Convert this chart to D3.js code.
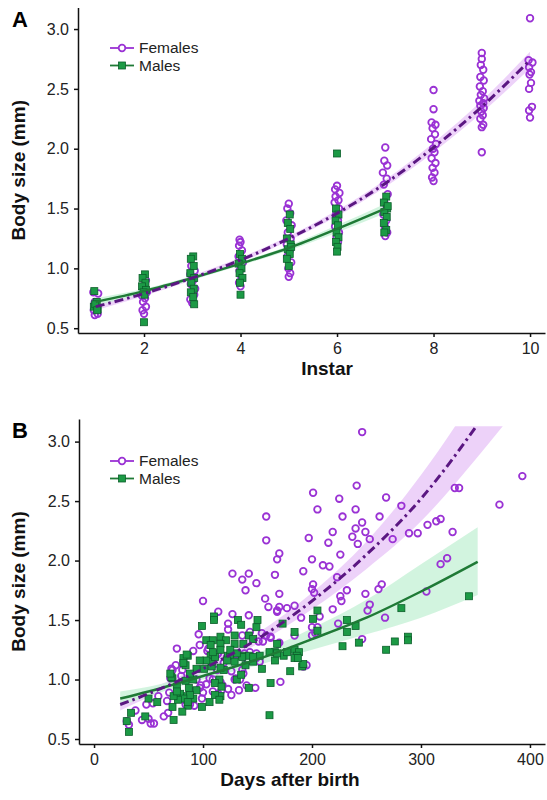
<html>
<head>
<script src="https://d3js.org/d3.v7.min.js"></script>
<style>
    body { margin: 0; background: #fff; }
    text { font-family: "Liberation Sans", Arial, sans-serif; }
    .axis path, .axis line { stroke: #111; stroke-width: 1.5; }
    .axis text { font-size: 16px; fill: #222; }
</style>
</head>
<body>
<svg id="chart" width="547" height="800"></svg>
<script>
// ---------- Panel A : body size by instar ----------
// [instar (with the small horizontal spread of the figure), body size mm]
const femalesA = [
    [0.95,0.80],[1.05,0.79],[0.98,0.72],[1.02,0.68],[0.96,0.65],[1.04,0.62],[0.98,0.61],[1.0,0.70],
    [2.04,0.90],[1.98,0.85],[2.06,0.80],[1.96,0.77],[2.02,0.75],[1.98,0.72],[2.04,0.68],[1.97,0.65],[2.0,0.62],
    [2.98,1.02],[3.05,0.98],[2.96,0.95],[3.02,0.90],[2.97,0.87],[3.06,0.83],[2.99,0.80],[3.04,0.78],[2.96,0.74],[3.0,0.71],
    [3.98,1.24],[4.0,1.22],[3.97,1.19],[4.03,1.15],[3.96,1.10],[4.05,1.05],[3.98,0.98],[4.02,0.92],[3.97,0.88],[4.0,0.85],
    [5.0,1.54],[4.97,1.50],[5.03,1.46],[4.95,1.40],[5.06,1.36],[4.98,1.30],[5.04,1.25],[4.96,1.20],[5.02,1.15],[4.97,1.10],[5.05,1.05],[4.99,1.00],[5.03,0.96],[5.0,0.93],
    [6.0,1.69],[5.96,1.66],[6.05,1.63],[5.97,1.60],[6.03,1.57],[5.95,1.55],[6.04,1.50],[5.98,1.45],[6.02,1.40],[5.96,1.35],[6.04,1.30],[5.99,1.26],[6.02,1.22],
    [7.0,2.01],[6.98,1.90],[7.04,1.86],[6.95,1.80],[7.03,1.75],[6.97,1.70],[7.05,1.62],[6.98,1.55],[7.03,1.50],[6.96,1.45],[7.02,1.40],[6.99,1.35],[7.04,1.30],[7.0,1.27],
    [8.0,2.49],[8.0,2.33],[7.96,2.22],[8.04,2.20],[7.98,2.17],[8.03,2.12],[7.95,2.08],[8.05,2.04],[7.99,2.00],[8.02,1.97],[7.96,1.92],[8.04,1.88],[7.98,1.84],[8.02,1.80],[7.97,1.76],[8.0,1.73],
    [9.0,2.80],[9.0,2.75],[8.98,2.70],[9.03,2.66],[8.97,2.60],[9.04,2.57],[8.96,2.52],[9.02,2.48],[8.98,2.45],[9.05,2.42],[8.95,2.40],[9.03,2.38],[8.97,2.36],[9.04,2.34],[8.99,2.31],[9.02,2.28],[8.97,2.25],[9.03,2.20],[9.0,2.18],[9.0,1.97],
    [10.0,3.09],[9.97,2.74],[10.05,2.72],[9.98,2.68],[10.02,2.64],[9.99,2.62],[10.02,2.55],[9.98,2.50],[10.04,2.35],[9.98,2.32],[10.0,2.26]
];
const malesA = [
    [0.97,0.81],[1.02,0.72],[0.96,0.68],[1.04,0.66],[0.99,0.70],[1.03,0.65],
    [2.02,0.95],[1.97,0.92],[2.03,0.88],[1.96,0.85],[2.04,0.82],[1.99,0.80],[2.01,0.78],[2.0,0.55],
    [3.02,1.10],[2.97,1.08],[3.03,1.02],[2.96,0.96],[3.04,0.92],[2.98,0.88],[3.03,0.83],[2.97,0.80],[3.02,0.76],[3.04,0.70],
    [3.99,1.12],[4.03,1.08],[3.96,1.04],[4.02,1.00],[3.98,0.96],[4.04,0.92],[3.99,0.88],[4.0,0.78],
    [5.02,1.45],[4.98,1.38],[5.03,1.33],[4.96,1.25],[5.04,1.20],[4.98,1.16],[5.02,1.12],[4.96,1.08],[5.0,1.02],[5.05,1.18],
    [6.0,1.96],[5.98,1.50],[6.03,1.45],[5.97,1.40],[6.02,1.36],[5.99,1.30],[6.03,1.26],[5.98,1.22],[6.01,1.18],[6.0,1.14],
    [7.02,1.60],[6.97,1.55],[7.04,1.50],[6.98,1.47],[7.03,1.43],[6.97,1.38],[7.02,1.32],[6.98,1.30],[7.05,1.52]
];
// fitted curves
const femaleFitXA = [1,2,3,4,5,6,7,8,9,10];
const femaleFitA  = [0.68,0.79,0.92,1.07,1.25,1.46,1.71,2.01,2.35,2.74];
const femaleLoA   = [0.65,0.77,0.90,1.05,1.23,1.435,1.68,1.97,2.30,2.67];
const femaleHiA   = [0.71,0.81,0.94,1.09,1.27,1.485,1.74,2.05,2.40,2.81];
const maleFitXA = [1,2,3,4,5,6,7];
const maleFitA  = [0.72,0.81,0.92,1.04,1.17,1.33,1.50];
const maleLoA   = [0.69,0.79,0.905,1.025,1.15,1.30,1.46];
const maleHiA   = [0.75,0.83,0.935,1.055,1.19,1.36,1.54];
const instarTicks = [2,4,6,8,10];

// ---------- Panel B : body size by age ----------
// [days after birth, body size mm]
const femalesB = [
    [246,3.08],[201,2.57],[241,2.63],[225,2.52],[268,2.53],[205,2.43],[240,2.43],[158,2.37],[228,2.37],[262,2.37],
    [282,2.46],[331,2.61],[335,2.61],[372,2.47],[393,2.71],[246,2.32],[240,2.27],[249,2.24],[219,2.24],[237,2.20],[253,2.18],
    [197,2.19],[158,2.17],[215,2.15],[242,2.14],[274,2.18],[289,2.23],[297,2.23],[306,2.30],[314,2.33],[318,2.35],
    [329,2.24],[170,2.06],[168,2.01],[226,2.05],[200,2.01],[210,1.96],[216,1.95],[192,1.91],[127,1.89],[142,1.89],
    [136,1.84],[166,1.88],[149,1.81],[139,1.75],[201,1.80],[200,1.76],[202,1.73],[223,1.86],[232,1.75],[170,1.72],
    [157,1.68],[100,1.66],[160,1.61],[170,1.61],[168,1.58],[177,1.60],[184,1.62],[226,1.70],[227,1.66],[249,1.72],
    [261,1.76],[264,1.80],[253,1.63],[251,1.58],[219,1.59],[190,1.52],[114,1.57],[127,1.55],[142,1.54],[123,1.47],
    [123,1.42],[96,1.38],[136,1.37],[143,1.40],[154,1.39],[170,1.31],[184,1.37],[200,1.44],[205,1.44],[203,1.39],
    [200,1.37],[224,1.47],[267,1.52],[305,1.74],[318,1.97],[324,2.02],[246,1.34],[151,1.32],[91,1.24],[104,1.24],
    [114,1.22],[122,1.19],[130,1.21],[138,1.22],[143,1.23],[149,1.22],[76,1.26],[71,1.09],[75,1.12],[106,1.16],
    [113,1.08],[119,1.14],[106,1.01],[109,1.00],[116,0.98],[118,0.95],[126,1.07],[130,1.01],[136,1.08],[137,1.05],
    [141,1.16],[149,1.18],[152,1.15],[155,1.32],[162,1.35],[158,1.37],[148,0.93],[133,0.91],[171,0.98],[94,1.00],
    [98,0.95],[103,0.96],[109,0.90],[99,0.84],[88,0.91],[70,1.01],[80,1.03],[59,0.86],[69,0.89],[67,0.82],
    [48,0.79],[54,0.80],[44,0.66],[52,0.63],[55,0.63],[64,0.69],[68,0.72],[32,0.62],[30,0.65],[38,0.74],
    [79,0.86],[83,0.83],[88,0.79],[114,0.88],[117,0.91],[123,0.92],[126,0.87],[97,1.29],[105,1.26],[113,1.21],
    [82,1.14],[168,1.57],[207,1.53],[169,1.30],[162,1.36],[195,1.12],[192,1.11],[50,0.67],[72,1.08],[81,1.08],
    [140,0.95],[134,1.00],[129,1.00],[97,0.93],[100,0.89],[92,0.78],[84,0.79]
];
const malesB = [
    [344,1.70],[282,1.60],[288,1.36],[288,1.33],[276,1.32],[268,1.25],[243,1.31],[228,1.28],[232,1.50],[232,1.40],
    [240,1.45],[205,1.58],[201,1.51],[205,1.41],[173,1.47],[184,1.40],[110,1.53],[110,1.50],[99,1.45],[132,1.50],
    [135,1.46],[150,1.50],[149,1.44],[103,1.33],[109,1.33],[116,1.36],[121,1.33],[116,1.30],[129,1.37],[142,1.37],
    [146,1.34],[137,1.30],[129,1.30],[168,1.30],[184,1.25],[188,1.23],[86,1.20],[107,1.20],[123,1.20],[125,1.20],
    [174,1.20],[186,1.20],[152,1.20],[136,1.20],[142,1.20],[184,1.18],[191,1.11],[192,1.13],[180,1.07],[166,1.23],
    [166,1.16],[177,1.23],[162,0.97],[161,0.70],[187,1.18],[168,1.22],[161,1.23],[154,1.09],[146,1.15],[146,1.19],
    [142,0.93],[131,1.00],[135,1.04],[139,1.12],[136,1.19],[131,1.22],[125,1.25],[129,1.15],[122,1.16],[119,1.08],
    [116,1.10],[115,1.00],[111,0.97],[117,0.94],[116,0.86],[111,0.87],[108,1.11],[108,1.15],[111,1.19],[116,1.25],
    [109,1.23],[107,1.29],[103,1.16],[101,1.09],[97,1.16],[94,1.09],[91,1.00],[87,0.93],[85,0.86],[79,0.88],
    [84,0.99],[76,0.94],[72,1.01],[71,1.02],[88,1.05],[99,0.77],[106,0.81],[115,0.83],[72,0.77],[86,0.78],
    [91,0.84],[94,0.91],[88,0.87],[82,0.84],[86,0.81],[77,0.83],[73,0.86],[73,0.66],[81,0.73],[76,0.90],
    [58,0.81],[50,0.84],[47,0.69],[34,0.72],[30,0.65],[32,0.56],[82,1.18],[85,1.21],[84,1.12],[70,1.05],[82,1.14]
];
const femaleFitXB = [24,50,100,150,200,250,300,350,375];
const femaleFitB  = [0.79,0.88,1.09,1.34,1.66,2.05,2.52,3.12,3.46];
const femaleLoB   = [0.74,0.85,1.06,1.30,1.59,1.93,2.33,2.85,3.13];
const femaleHiB   = [0.84,0.92,1.12,1.39,1.73,2.16,2.72,3.40,3.80];
const maleFitXB = [24,50,100,150,200,250,300,352];
const maleFitB  = [0.84,0.90,1.03,1.17,1.34,1.52,1.74,1.99];
const maleLoB   = [0.78,0.86,1.00,1.12,1.25,1.38,1.52,1.71];
const maleHiB   = [0.90,0.94,1.06,1.22,1.43,1.67,1.97,2.28];
const dayTicks = [0,100,200,300,400];

const sizeTicks = [0.5,1.0,1.5,2.0,2.5,3.0];
const seriesNames = ["Females", "Males"];

// colours
const purple = "#9a32d4", purpleDark = "#5b1782", purpleBand = "#ebcdf8";
const green = "#1c9a45", greenDark = "#0c5f2b", greenLine = "#1f7a36", greenBand = "#cdf3dc";

const svg = d3.select("svg#chart");

function drawPanel(p) {
    const x = d3.scaleLinear().domain(p.xDomain).range([p.left, 545]);
    const y = d3.scaleLinear().domain(p.yDomain).range([p.bottom, p.top]);
    const g = svg.append("g");

    const clipId = "clip" + p.letter;
    svg.append("clipPath").attr("id", clipId)
        .append("rect")
        .attr("x", p.left).attr("width", 545 - p.left)
        .attr("y", y(p.clipTop)).attr("height", p.bottom - y(p.clipTop));
    const plot = g.append("g").attr("clip-path", "url(#" + clipId + ")");

    const band = (xs, lo, hi) => d3.area()
        .x((d, i) => x(xs[i])).y0((d, i) => y(lo[i])).y1((d, i) => y(hi[i]))
        .curve(d3.curveMonotoneX)(xs);
    const line = (xs, vs) => d3.line()
        .x((d, i) => x(xs[i])).y((d, i) => y(vs[i]))
        .curve(d3.curveMonotoneX)(xs);

    // confidence bands
    plot.append("path").attr("d", band(p.femaleFitX, p.femaleLo, p.femaleHi))
        .attr("fill", purpleBand).attr("opacity", 0.9);
    plot.append("path").attr("d", band(p.maleFitX, p.maleLo, p.maleHi))
        .attr("fill", greenBand).attr("opacity", 0.9);

    // points
    plot.selectAll("circle.f").data(p.females).join("circle")
        .attr("class", "f")
        .attr("cx", d => x(d[0])).attr("cy", d => y(d[1]))
        .attr("r", 3.3)
        .attr("fill", "none").attr("stroke", purple).attr("stroke-width", 1.8);
    plot.selectAll("rect.m").data(p.males).join("rect")
        .attr("class", "m")
        .attr("x", d => x(d[0]) - 3.5).attr("y", d => y(d[1]) - 3.5)
        .attr("width", 7).attr("height", 7)
        .attr("fill", green).attr("stroke", greenDark).attr("stroke-width", 0.8);

    // fitted lines
    plot.append("path").attr("d", line(p.maleFitX, p.maleFit))
        .attr("fill", "none").attr("stroke", greenLine).attr("stroke-width", 2.5);
    plot.append("path").attr("d", line(p.femaleFitX, p.femaleFit))
        .attr("fill", "none").attr("stroke", purpleDark).attr("stroke-width", 3)
        .attr("stroke-dasharray", "9,4,2.5,4");

    // axes
    g.append("g").attr("class", "axis")
        .attr("transform", "translate(" + p.left + ",0)")
        .call(d3.axisLeft(y).tickValues(sizeTicks).tickFormat(d3.format(".1f"))
            .tickSize(4).tickSizeOuter(0).tickPadding(5));
    g.append("g").attr("class", "axis")
        .attr("transform", "translate(0," + p.bottom + ")")
        .call(d3.axisBottom(x).tickValues(p.xTicks).tickFormat(d3.format("d"))
            .tickSize(4).tickSizeOuter(0).tickPadding(6));

    // titles
    g.append("text").attr("x", 12).attr("y", p.top + 19)
        .style("font-size", "22px").style("font-weight", "bold").text(p.letter);
    g.append("text")
        .attr("transform", "translate(25," + ((p.top + p.bottom) / 2) + ") rotate(-90)")
        .attr("text-anchor", "middle")
        .style("font-size", "19px").style("font-weight", "bold").attr("fill", "#111")
        .text("Body size (mm)");
    g.append("text").attr("x", p.xTitleX).attr("y", p.bottom + 42)
        .attr("text-anchor", "middle")
        .style("font-size", "19px").style("font-weight", "bold").attr("fill", "#111")
        .text(p.xTitle);

    // legend
    const leg = g.append("g").attr("transform", "translate(110," + p.legendY + ")");
    seriesNames.forEach((name, i) => {
        const row = leg.append("g").attr("transform", "translate(0," + (i * 17.5) + ")");
        row.append("line").attr("x1", 0).attr("x2", 24).attr("y1", 0).attr("y2", 0)
            .attr("stroke", i == 0 ? purple : greenLine).attr("stroke-width", 1.8);
        if (i == 0) {
            row.append("circle").attr("cx", 12).attr("cy", 0).attr("r", 3.3)
                .attr("fill", "#fff").attr("stroke", purple).attr("stroke-width", 1.8);
        } else {
            row.append("rect").attr("x", 8.5).attr("y", -3.5).attr("width", 7).attr("height", 7)
                .attr("fill", green).attr("stroke", greenDark).attr("stroke-width", 0.8);
        }
        row.append("text").attr("x", 29).attr("y", 0).attr("dy", "0.35em")
            .style("font-size", "15.5px").attr("fill", "#222").text(name);
    });
}

drawPanel({
    letter: "A", left: 78, top: 7.5, bottom: 333,
    xDomain: [0.632, 10.31], yDomain: [0.46, 3.18], clipTop: 3.18,
    xTicks: instarTicks, xTitle: "Instar", xTitleX: 327, legendY: 48,
    females: femalesA, males: malesA,
    femaleFitX: femaleFitXA, femaleFit: femaleFitA, femaleLo: femaleLoA, femaleHi: femaleHiA,
    maleFitX: maleFitXA, maleFit: maleFitA, maleLo: maleLoA, maleHi: maleHiA
});
drawPanel({
    letter: "B", left: 79, top: 419, bottom: 744,
    xDomain: [-13.8, 413.8], yDomain: [0.458, 3.19], clipTop: 3.13,
    xTicks: dayTicks, xTitle: "Days after birth", xTitleX: 290, legendY: 461,
    females: femalesB, males: malesB,
    femaleFitX: femaleFitXB, femaleFit: femaleFitB, femaleLo: femaleLoB, femaleHi: femaleHiB,
    maleFitX: maleFitXB, maleFit: maleFitB, maleLo: maleLoB, maleHi: maleHiB
});
</script>
</body>
</html>
